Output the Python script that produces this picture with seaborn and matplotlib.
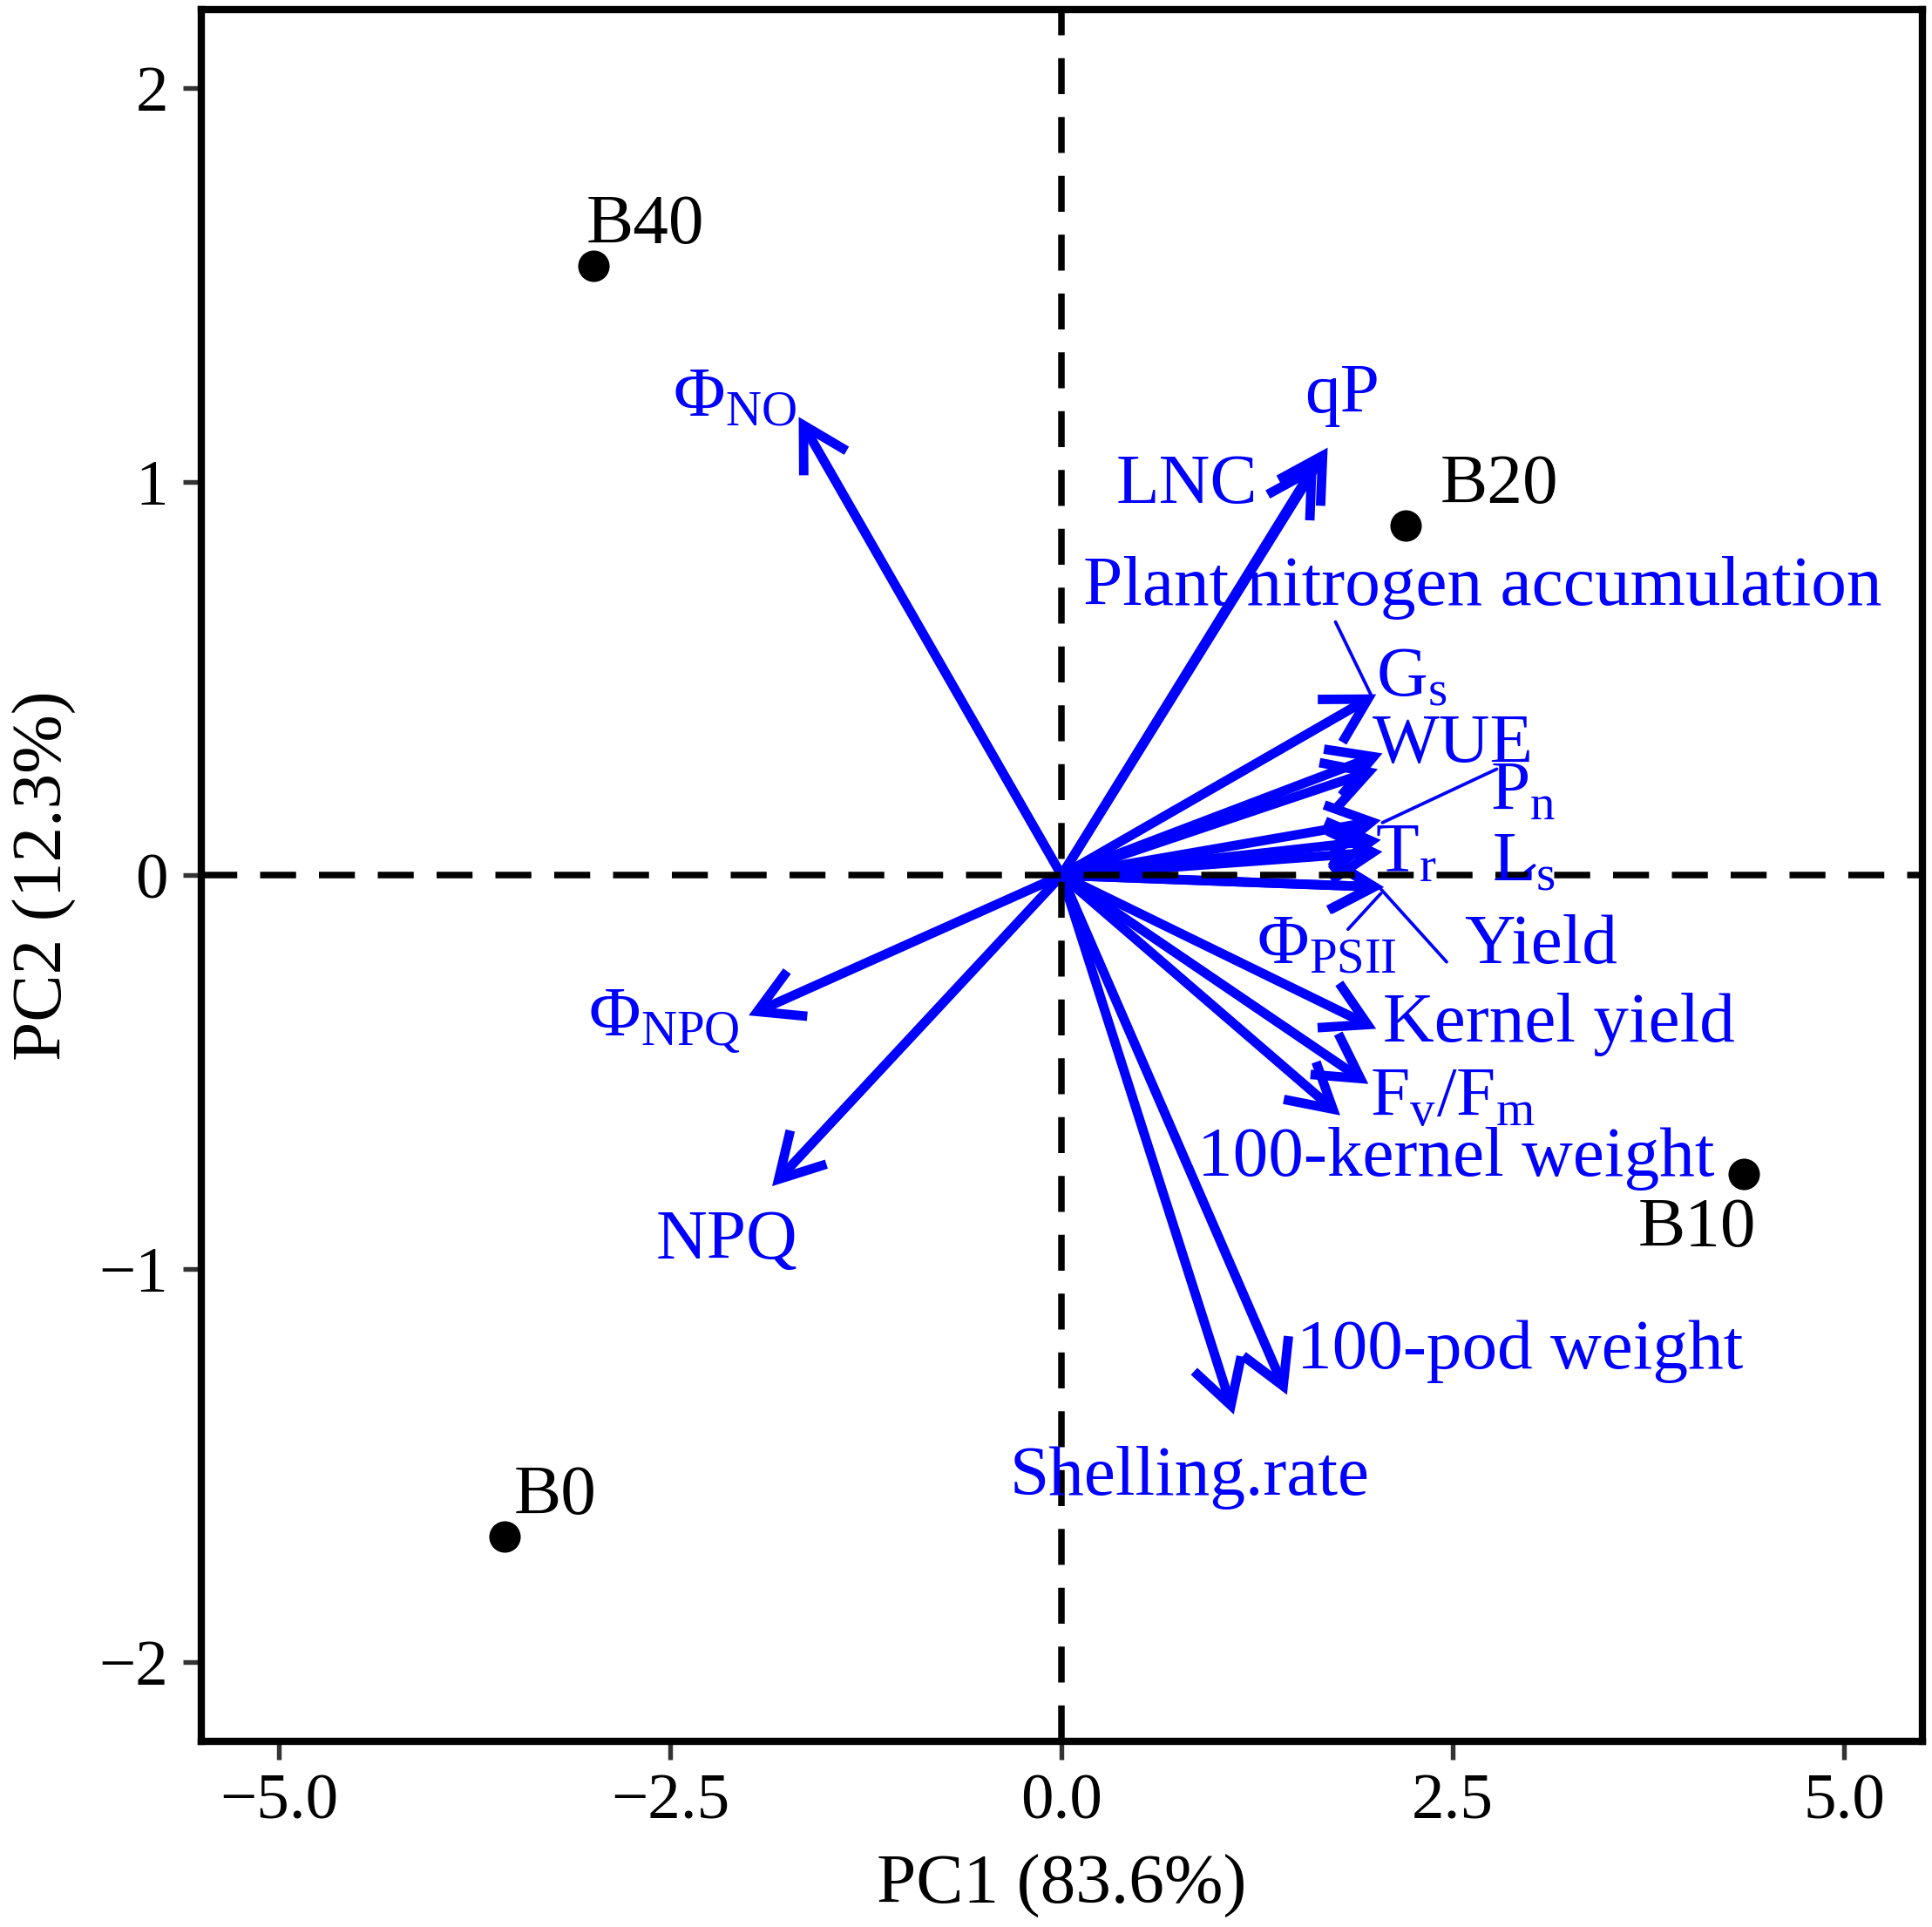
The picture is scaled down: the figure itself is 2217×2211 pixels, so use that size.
"""
PCA 双标图：处理点 (B0-B40) + 变量载荷箭头
输出: out.png
"""

import numpy as np
import pandas as pd
import matplotlib
matplotlib.use("Agg")
import matplotlib.pyplot as plt
import seaborn as sns

sns.set_theme(style="white")
plt.rcParams.update({
    "font.family": ["Liberation Serif", "DejaVu Serif"],
    "mathtext.fontset": "custom",
    "mathtext.rm": "Liberation Serif",
    "mathtext.it": "Liberation Serif:italic",
    "axes.unicode_minus": True,
    "axes.labelcolor": "black",
    "text.color": "black",
})

# ============================================================
# 数据
# ============================================================
# 样本得分
treatments = ["B40", "B20", "B10", "B0"]
score_pc1 = [-2.99, 2.20, 4.36, -3.56]
score_pc2 = [1.55, 0.89, -0.76, -1.68]

# 变量载荷（箭头终点）
variables = [
    "ΦNO", "qP", "LNC", "Plant nitrogen accumulation", "Gs", "WUE",
    "Pn", "Tr", "Ls", "ΦPSII", "Yield", "Kernel yield", "Fv/Fm",
    "100-kernel weight", "100-pod weight", "Shelling.rate", "ΦNPQ", "NPQ",
]
load_pc1 = [-1.68, 1.70, 1.63, 2.02, 2.01, 2.05, 2.04, 2.04, 2.05,
            2.05, 2.06, 2.01, 1.96, 1.78, 1.44, 1.10, -2.00, -1.85]
load_pc2 = [1.165, 1.087, 1.05, 0.27, 0.46, 0.31, 0.14, 0.09, 0.06,
            -0.03, -0.03, -0.39, -0.53, -0.61, -1.32, -1.37, -0.356, -0.79]

pc1_label = "PC1 (83.6%)"
pc2_label = "PC2 (12.3%)"

# 变量标签显示文本（带下标）
display_text = {
    "ΦNO": "Φ$_{\\mathrm{NO}}$",
    "Gs": "G$_{\\mathrm{s}}$",
    "Pn": "P$_{\\mathrm{n}}$",
    "Tr": "T$_{\\mathrm{r}}$",
    "Ls": "L$_{\\mathrm{s}}$",
    "ΦPSII": "Φ$_{\\mathrm{PSII}}$",
    "Fv/Fm": "F$_{\\mathrm{v}}$/F$_{\\mathrm{m}}$",
    "ΦNPQ": "Φ$_{\\mathrm{NPQ}}$",
}

# 标签位置（repel 后的位置，布局用）
var_label_pos = {
    "ΦNO": (-2.09, 1.21), "qP": (1.79, 1.22), "LNC": (0.80, 0.99),
    "Plant nitrogen accumulation": (2.69, 0.73), "Gs": (2.01, 0.50),
    "WUE": (2.50, 0.33), "Pn": (2.95, 0.21), "Tr": (2.20, 0.05),
    "Ls": (2.95, 0.03), "ΦPSII": (1.69, -0.18), "Yield": (3.06, -0.18),
    "Kernel yield": (3.18, -0.38), "Fv/Fm": (2.50, -0.57),
    "100-kernel weight": (2.52, -0.72), "100-pod weight": (2.93, -1.21),
    "Shelling.rate": (0.82, -1.53), "ΦNPQ": (-2.54, -0.37),
    "NPQ": (-2.14, -0.93),
}
left_aligned = {"Gs"}
trt_label_pos = {"B40": (-3.04, 1.65), "B20": (2.42, 0.99),
                 "B10": (4.06, -0.90), "B0": (-3.50, -1.58)}

# repel 连接线
seg_x0 = [1.75, 2.78, 1.83, 2.46, 2.94]
seg_y0 = [0.644, 0.27, -0.137, -0.22, 0.0]
seg_x1 = [1.98, 2.05, 2.04, 2.04, 3.02]
seg_y1 = [0.456, 0.134, -0.046, -0.035, 0.025]

scores = pd.DataFrame({"trt": treatments, "PC1": score_pc1, "PC2": score_pc2})
loads = pd.DataFrame({"var": variables, "PC1": load_pc1, "PC2": load_pc2})

BLUE = "#0000FF"

# ============================================================
# 作图
# ============================================================
fig = plt.figure(figsize=(2217 / 300, 2211 / 300), dpi=300)
ax = fig.add_axes([0.104, 0.0965, 0.891, 0.8985])

# 箭头
for _, row in loads.iterrows():
    ax.annotate("", xy=(row["PC1"], row["PC2"]), xytext=(0, 0),
                arrowprops=dict(arrowstyle="->,head_length=0.6,head_width=0.34",
                                color=BLUE, lw=2.6, mutation_scale=20,
                                shrinkA=0, shrinkB=0, capstyle="butt",
                                joinstyle="miter"),
                zorder=2)

# 参考线
ax.axhline(0, color="black", lw=1.8, dashes=(5.5, 3.5), zorder=3)
ax.axvline(0, color="black", lw=1.8, dashes=(5.5, 3.5), zorder=3)

# 连接线
for x0, y0, x1, y1 in zip(seg_x0, seg_y0, seg_x1, seg_y1):
    ax.plot([x0, x1], [y0, y1], color=BLUE, lw=0.9, zorder=2)

# 样本点
sns.scatterplot(data=scores, x="PC1", y="PC2", color="black", s=75,
                edgecolor="black", linewidth=0, ax=ax, zorder=4, legend=False)

for _, row in scores.iterrows():
    lx, ly = trt_label_pos[row["trt"]]
    ha = "center" if row["trt"] == "B10" else "left"
    ax.text(lx, ly, row["trt"], ha=ha, va="center", fontsize=19.5,
            color="black", zorder=5)

for _, row in loads.iterrows():
    lx, ly = var_label_pos[row["var"]]
    ha = "left" if row["var"] in left_aligned else "center"
    ax.text(lx, ly, display_text.get(row["var"], row["var"]), ha=ha,
            va="center", fontsize=19.5, color=BLUE, zorder=5)

ax.set_xlim(-5.5, 5.5)
ax.set_ylim(-2.2, 2.2)
ax.set_xticks([-5.0, -2.5, 0.0, 2.5, 5.0])
ax.set_xticklabels(["−5.0", "−2.5", "0.0", "2.5", "5.0"])
ax.set_yticks([-2, -1, 0, 1, 2])
ax.set_yticklabels(["−2", "−1", "0", "1", "2"])
ax.tick_params(axis="both", which="major", direction="out", length=5,
               width=1.3, color="#333333", labelsize=18, labelcolor="black",
               bottom=True, left=True, pad=4)
ax.set_xlabel(pc1_label, fontsize=19.5, labelpad=6, color="black")
ax.set_ylabel(pc2_label, fontsize=19.5, labelpad=6, color="black")

for sp in ax.spines.values():
    sp.set_visible(True)
    sp.set_color("black")
    sp.set_linewidth(2.0)

fig.savefig("out.png", dpi=300)
plt.close()
